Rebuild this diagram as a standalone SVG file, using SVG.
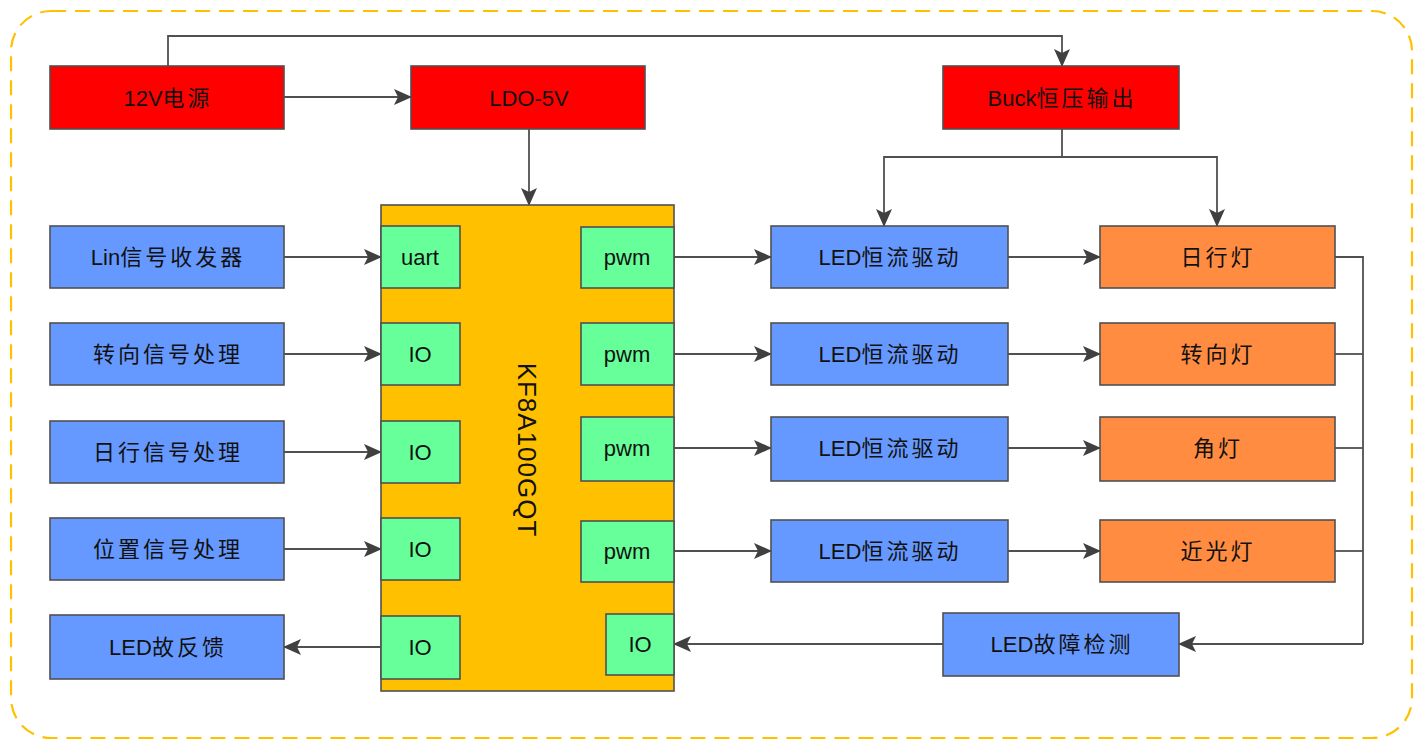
<svg xmlns="http://www.w3.org/2000/svg" width="1414" height="740" viewBox="0 0 1414 740">
<defs>
<marker id="ah" markerUnits="userSpaceOnUse" markerWidth="18" markerHeight="16" refX="17" refY="8" orient="auto">
<path d="M0,0 L18,8 L0,16 L4,8 Z" fill="#404040"/>
</marker>
</defs>
<style>
.box{stroke:#505050;stroke-width:1.6}
.red{fill:#FF0000}
.blue{fill:#6699FF}
.green{fill:#66FF99}
.orange{fill:#FF8C40}
.mcu{fill:#FFC000}
text{font-family:"Liberation Sans","Noto Sans CJK SC",sans-serif;font-size:22px;fill:#111;text-anchor:middle;dominant-baseline:central}
.z{letter-spacing:3px}
.c{fill:none;stroke:#505050;stroke-width:1.8}
.a{marker-end:url(#ah)}
</style>
<rect x="11" y="11" width="1401" height="727" rx="40" ry="40" fill="none" stroke="#FFC000" stroke-width="2.2" stroke-dasharray="15,9"/>

<g id="connectors">
<path class="c a" d="M168,66 V36 H1062 V66"/>
<path class="c a" d="M284,97 H411"/>
<path class="c a" d="M529,129 V205"/>
<path class="c a" d="M1062,129 V157 H884 V226"/>
<path class="c a" d="M1062,157 H1217 V226"/>
<path class="c a" d="M284,257 H381"/>
<path class="c a" d="M284,354 H381"/>
<path class="c a" d="M284,452 H381"/>
<path class="c a" d="M284,549 H381"/>
<path class="c a" d="M381,647 H284"/>
<path class="c a" d="M674,257 H771"/>
<path class="c a" d="M674,354 H771"/>
<path class="c a" d="M674,448 H771"/>
<path class="c a" d="M674,551 H771"/>
<path class="c a" d="M1008,257 H1100"/>
<path class="c a" d="M1008,354 H1100"/>
<path class="c a" d="M1008,448 H1100"/>
<path class="c a" d="M1008,551 H1100"/>
<path class="c" d="M1335,257 H1363 V644"/>
<path class="c" d="M1335,354 H1363"/>
<path class="c" d="M1335,448 H1363"/>
<path class="c" d="M1335,551 H1363"/>
<path class="c a" d="M1363,644 H1179"/>
<path class="c a" d="M943,644 H674"/>
</g>

<g id="n12v"><rect class="box red" x="50" y="66" width="234" height="63"/><text x="168" y="98">12V<tspan class="z">电源</tspan></text></g>
<g id="nldo"><rect class="box red" x="411" y="66" width="234" height="63"/><text x="529" y="98">LDO-5V</text></g>
<g id="nbuck"><rect class="box red" x="943" y="66" width="236" height="63"/><text x="1062" y="98">Buck<tspan class="z">恒压输出</tspan></text></g>

<g id="nlin"><rect class="box blue" x="50" y="226" width="234" height="62"/><text x="168" y="257">Lin<tspan class="z">信号收发器</tspan></text></g>
<g id="nturn"><rect class="box blue" x="50" y="323" width="234" height="62"/><text x="168" y="354"><tspan class="z">转向信号处理</tspan></text></g>
<g id="nday"><rect class="box blue" x="50" y="421" width="234" height="62"/><text x="168" y="452"><tspan class="z">日行信号处理</tspan></text></g>
<g id="npos"><rect class="box blue" x="50" y="518" width="234" height="62"/><text x="168" y="549"><tspan class="z">位置信号处理</tspan></text></g>
<g id="nfb"><rect class="box blue" x="50" y="615" width="234" height="64"/><text x="168" y="647">LED<tspan class="z">故反馈</tspan></text></g>

<g id="nmcu">
<rect class="box mcu" x="381" y="205" width="293" height="486"/>
<text x="527" y="450" transform="rotate(90 527 450)" style="font-size:26px;letter-spacing:1px">KF8A100GQT</text>
</g>
<g id="p_uart"><rect class="box green" x="381" y="226" width="79" height="62"/><text x="420" y="257">uart</text></g>
<g id="p_io1"><rect class="box green" x="381" y="323" width="79" height="62"/><text x="420" y="354">IO</text></g>
<g id="p_io2"><rect class="box green" x="381" y="421" width="79" height="62"/><text x="420" y="452">IO</text></g>
<g id="p_io3"><rect class="box green" x="381" y="518" width="79" height="62"/><text x="420" y="549">IO</text></g>
<g id="p_io4"><rect class="box green" x="381" y="616" width="79" height="63"/><text x="420" y="647">IO</text></g>
<g id="p_pwm1"><rect class="box green" x="581" y="227" width="93" height="61"/><text x="627" y="257">pwm</text></g>
<g id="p_pwm2"><rect class="box green" x="581" y="323" width="93" height="62"/><text x="627" y="354">pwm</text></g>
<g id="p_pwm3"><rect class="box green" x="581" y="417" width="93" height="64"/><text x="627" y="448">pwm</text></g>
<g id="p_pwm4"><rect class="box green" x="581" y="521" width="93" height="61"/><text x="627" y="551">pwm</text></g>
<g id="p_io5"><rect class="box green" x="606" y="614" width="68" height="61"/><text x="640" y="644">IO</text></g>

<g id="drv1"><rect class="box blue" x="771" y="226" width="237" height="62"/><text x="890" y="257">LED<tspan class="z">恒流驱动</tspan></text></g>
<g id="drv2"><rect class="box blue" x="771" y="323" width="237" height="62"/><text x="890" y="354">LED<tspan class="z">恒流驱动</tspan></text></g>
<g id="drv3"><rect class="box blue" x="771" y="417" width="237" height="64"/><text x="890" y="448">LED<tspan class="z">恒流驱动</tspan></text></g>
<g id="drv4"><rect class="box blue" x="771" y="520" width="237" height="62"/><text x="890" y="551">LED<tspan class="z">恒流驱动</tspan></text></g>

<g id="lamp1"><rect class="box orange" x="1100" y="226" width="235" height="62"/><text x="1218" y="257"><tspan class="z">日行灯</tspan></text></g>
<g id="lamp2"><rect class="box orange" x="1100" y="323" width="235" height="62"/><text x="1218" y="354"><tspan class="z">转向灯</tspan></text></g>
<g id="lamp3"><rect class="box orange" x="1100" y="417" width="235" height="64"/><text x="1218" y="448"><tspan class="z">角灯</tspan></text></g>
<g id="lamp4"><rect class="box orange" x="1100" y="520" width="235" height="62"/><text x="1218" y="551"><tspan class="z">近光灯</tspan></text></g>

<g id="nfault"><rect class="box blue" x="943" y="613" width="236" height="63"/><text x="1062" y="644">LED<tspan class="z">故障检测</tspan></text></g>
</svg>
